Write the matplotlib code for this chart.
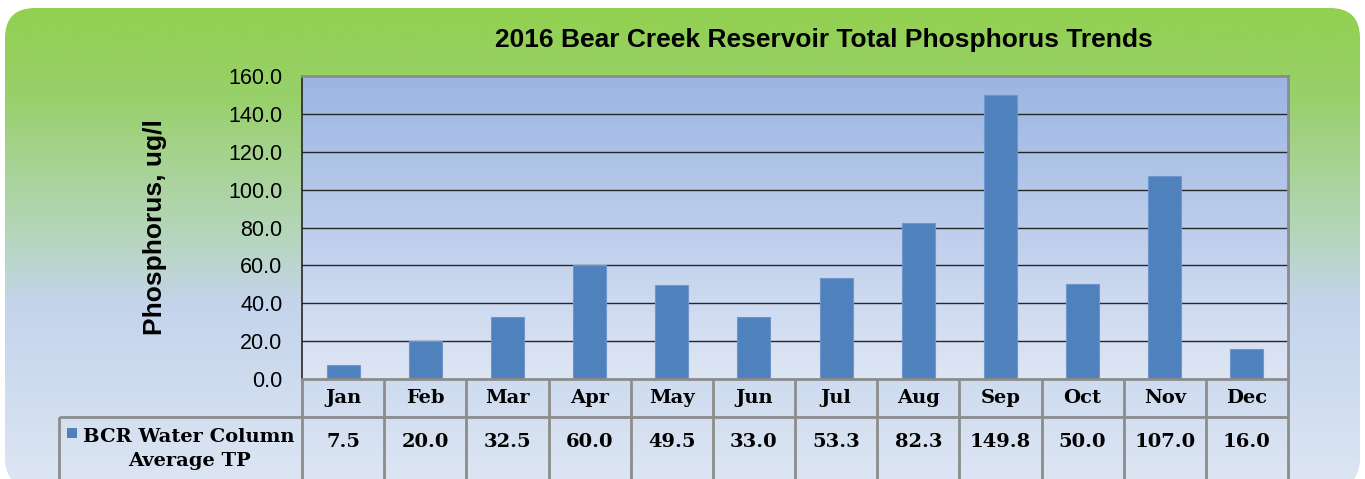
import numpy as np
import matplotlib.pyplot as plt
from matplotlib.patches import FancyBboxPatch, Rectangle
from matplotlib.colors import LinearSegmentedColormap

months = ["Jan", "Feb", "Mar", "Apr", "May", "Jun",
          "Jul", "Aug", "Sep", "Oct", "Nov", "Dec"]
tp = [7.5, 20.0, 32.5, 60.0, 49.5, 33.0, 53.3, 82.3, 149.8, 50.0, 107.0, 16.0]
yticks = [0, 20, 40, 60, 80, 100, 120, 140, 160]
series_name = "BCR Water Column\nAverage TP"
title = "2016 Bear Creek Reservoir Total Phosphorus Trends"

W, H = 1365, 479
BAR = "#4F81BD"
GRID_GRAY = "#8C8C8C"

fig = plt.figure(figsize=(W / 100, H / 100), dpi=100)
fig.patch.set_facecolor("white")


def fx(px):
    return px / W


def fy(py):
    return 1 - py / H


# rounded background with vertical gradient
bg = fig.add_axes([0, 0, 1, 1])
bg.set_xlim(0, W)
bg.set_ylim(H, 0)
bg.axis("off")
bg_cmap = LinearSegmentedColormap.from_list(
    "bg", [(0.0, "#92D050"), (0.18, "#98D06A"), (0.5, "#B8D6C4"),
           (0.62, "#C4D4EC"), (1.0, "#DDE6F3")])
grad = np.linspace(0, 1, 256).reshape(-1, 1)
box = FancyBboxPatch((5, 8), 1355, 480, boxstyle="round,pad=0,rounding_size=30",
                     facecolor="none", edgecolor="none")
bg.add_patch(box)
im = bg.imshow(grad, cmap=bg_cmap, extent=(5, 1360, 488, 8), aspect="auto")
im.set_clip_path(box)

# plot area
left, right, top, bottom = 302, 1288, 76, 379
ax = fig.add_axes([fx(left), fy(bottom), fx(right - left), (bottom - top) / H])
x = np.arange(len(months))
ax.set_xlim(-0.5, 11.5)
ax.set_ylim(0, 160)
pa_cmap = LinearSegmentedColormap.from_list("pa", ["#9BB5E3", "#DEE6F4"])
ax.imshow(grad, cmap=pa_cmap, extent=(-0.5, 11.5, 0, 160), aspect="auto", zorder=0)
ax.set_yticks(yticks)
ax.set_yticklabels([f"{v:.1f}" for v in yticks], fontsize=15.5,
                   family="Liberation Sans")
ax.tick_params(axis="y", length=0, pad=14)
ax.set_xticks([])
for v in yticks[1:-1]:
    ax.axhline(v, color="#262626", lw=1.0, zorder=1)
ax.bar(x, tp, width=0.4, color=BAR, edgecolor="#6F95CC", lw=0.8, zorder=2)
for s in ["top", "right"]:
    ax.spines[s].set_color(GRID_GRAY)
    ax.spines[s].set_linewidth(2)
ax.spines["left"].set_color("#262626")
ax.spines["left"].set_linewidth(1.2)
ax.spines["bottom"].set_color(GRID_GRAY)
ax.spines["bottom"].set_linewidth(2)
ax.set_ylabel("Phosphorus, ug/l", fontsize=19, fontweight="bold",
              family="Liberation Sans", labelpad=44)

fig.text(fx(824), fy(40), title, ha="center", va="center", fontsize=19,
         fontweight="bold", family="Liberation Sans")

# data table under the axis
tab = fig.add_axes([0, 0, 1, 1], facecolor="none")
tab.set_xlim(0, W)
tab.set_ylim(H, 0)
tab.axis("off")
colw = (right - left) / len(months)
row1, row2, row3 = 379, 417, 480
lk = dict(color=GRID_GRAY, lw=2, solid_capstyle="butt")
tab.plot([left, right], [row2, row2], **lk)
tab.plot([59, left], [row2, row2], **lk)
tab.plot([59, 59], [row2, row3], **lk)
for i in range(len(months) + 1):
    xb = left + i * colw
    tab.plot([xb, xb], [row1, row3], **lk)
tfont = dict(family="DejaVu Serif", fontweight="bold", fontsize=14,
             ha="center", va="center")
for i, (m, v) in enumerate(zip(months, tp)):
    xc = left + (i + 0.5) * colw
    tab.text(xc, 398, m, **tfont)
    tab.text(xc, 442, f"{v:.1f}", **tfont)
tab.add_patch(Rectangle((67, 428), 10, 10, facecolor=BAR, edgecolor="none"))
tab.text(189, 449, series_name, linespacing=1.45, **tfont)

fig.savefig("out.png", dpi=100)
